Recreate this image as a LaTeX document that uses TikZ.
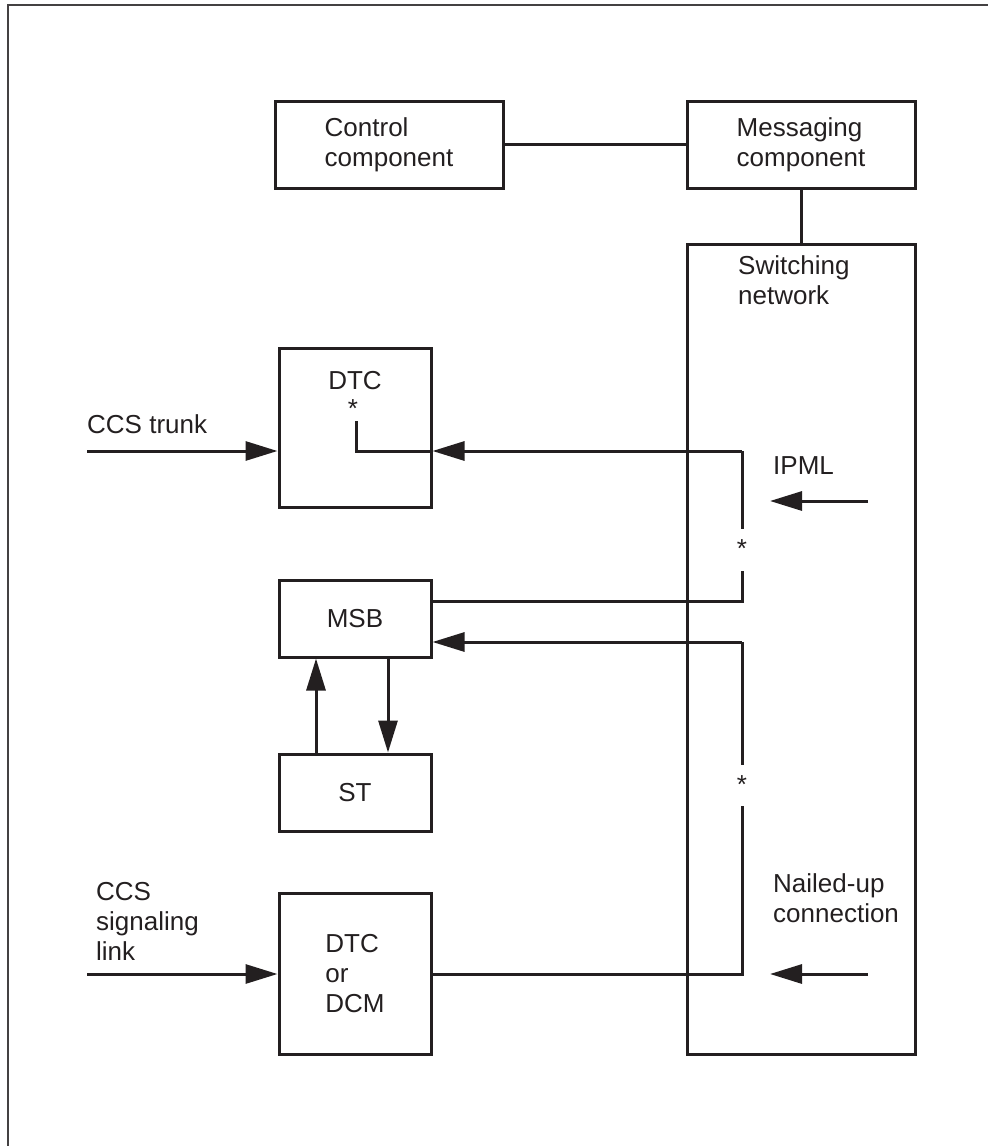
\documentclass[tikz,border=0pt]{standalone}
\usepackage{fontspec}
\setmainfont{Liberation Sans}
\usetikzlibrary{arrows.meta}
\definecolor{ink}{RGB}{35,31,32}
\newcommand\diagfont{\fontsize{26}{30}\selectfont}
\begin{document}
\begin{tikzpicture}[x=1pt,y=-1pt,
  box/.style={draw=ink, line width=3pt, inner sep=0pt, align=left, font=\diagfont, text=ink},
  txt/.style={inner sep=0pt, align=left, font=\diagfont, text=ink},
  conn/.style={draw=ink, line width=3pt},
  arr/.style={draw=ink, line width=3pt, -{Triangle[length=32pt,width=19pt]}},
]
\useasboundingbox (0,0) rectangle (988,1146);
% frame
\coordinate (fa) at (988,5);
\coordinate (fb) at (8,5);
\coordinate (fc) at (8,1146);
\draw[ink!85, line width=1.6pt] (fa) -- (fb) -- (fc);

% boxes
\node[box, minimum width=228pt, minimum height=87pt] (ctrl) at (389,144.5) {Control\\component};
\node[box, minimum width=228pt, minimum height=87pt] (msg) at (801,144.5) {Messaging\\component};
\node[box, minimum width=228pt, minimum height=810pt] (sw) at (801,649) {};
\node[txt, anchor=north west] (swt) at (738,255) {Switching\\network};
\node[box, minimum width=152pt, minimum height=159pt] (dtc) at (355,427.5) {};
\node[txt] (dtct) at (355,381) {DTC};
\node[txt] (dstar) at (353,409) {*};
\node[box, minimum width=152pt, minimum height=77pt] (msb) at (355,618.5) {MSB};
\node[box, minimum width=152pt, minimum height=77pt] (st) at (355,792.5) {ST};
\node[box, minimum width=152pt, minimum height=161pt] (dcm) at (355,973.5) {DTC\\or\\DCM};

% top connections
\draw[conn] (ctrl.east) -- (msg.west);
\draw[conn] (msg.south) -- (sw.north);

% CCS trunk
\node[txt, anchor=west] (cct) at (87,424) {CCS trunk};
\coordinate (ctin) at (87,451);
\draw[arr] (ctin) -- (ctin -| dtc.west);

% CCS signaling link
\node[txt, anchor=north west] (csl) at (96,882) {CCS\\signaling\\link};
\coordinate (clin) at (87,974);
\draw[arr] (clin) -- (clin -| dcm.west);

% path from switching network to DTC
\coordinate (dtop) at (356,421);
\coordinate (dcorner) at (356,451);
\coordinate (j1) at (742,451);
\coordinate (j1b) at (742,529);
\draw[conn] (dtop) -- (dcorner) -- (dtc.east |- dcorner);
\draw[arr] (j1) -- (dtc.east |- j1);
\draw[conn] (j1) -- (j1b);
\node[txt] (star1) at (742,549) {*};
\coordinate (m1top) at (742,571);
\coordinate (m1) at (742,601);
\draw[conn] (msb.east |- m1) -- (m1) -- (m1top);

% path from switching network to MSB
\coordinate (m2) at (742,642);
\coordinate (m2b) at (742,765);
\draw[arr] (m2) -- (msb.east |- m2);
\draw[conn] (m2) -- (m2b);
\node[txt] (star2) at (742,785) {*};
\coordinate (m3top) at (742,806);
\coordinate (m3) at (742,974);
\draw[conn] (dcm.east |- m3) -- (m3) -- (m3top);

% MSB <-> ST
\coordinate (u) at (316,700);
\coordinate (d) at (388,700);
\draw[arr] (st.north -| u) -- (msb.south -| u);
\draw[arr] (msb.south -| d) -- (st.north -| d);

% IPML
\node[txt, anchor=west] (ipml) at (773,466) {IPML};
\coordinate (ip1) at (868,501);
\coordinate (ip2) at (770,501);
\draw[arr] (ip1) -- (ip2);

% Nailed-up connection
\node[txt, anchor=north west] (nuc) at (773,873) {Nailed-up\\connection};
\coordinate (nu1) at (868,974);
\coordinate (nu2) at (770,974);
\draw[arr] (nu1) -- (nu2);
\end{tikzpicture}
\end{document}
